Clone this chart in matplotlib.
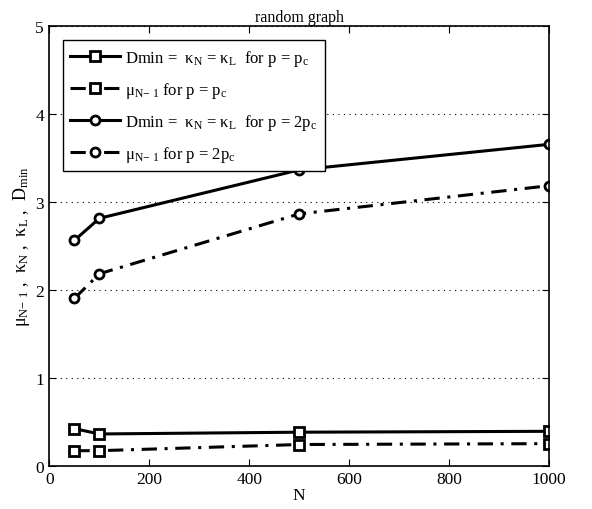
import matplotlib
matplotlib.use("Agg")
import matplotlib.pyplot as plt

N = [50, 100, 500, 1000]
dmin_pc = [0.42, 0.36, 0.38, 0.39]
mu_pc = [0.17, 0.17, 0.24, 0.25]
dmin_2pc = [2.56, 2.81, 3.36, 3.65]
mu_2pc = [1.90, 2.18, 2.86, 3.18]

labels = [r"Dmin =  $\kappa_N$ = $\kappa_L$  for p = p$_c$",
          r"$\mu_{N\mathrm{-}\ 1}$ for p = p$_c$",
          r"Dmin =  $\kappa_N$ = $\kappa_L$  for p = 2p$_c$",
          r"$\mu_{N\mathrm{-}\ 1}$ for p = 2p$_c$"]

plt.rcParams['font.family'] = ['Liberation Serif', 'DejaVu Serif']
plt.rcParams['mathtext.fontset'] = 'custom'
plt.rcParams['mathtext.rm'] = 'Liberation Serif'
plt.rcParams['mathtext.it'] = 'Liberation Serif'
plt.rcParams['mathtext.default'] = 'regular'

fig = plt.figure(figsize=(5.92, 5.10), dpi=100)
ax = fig.add_axes([0.0836, 0.085, 0.8436, 0.863])

lw = 2.2
mk = dict(markersize=6.5, markeredgewidth=2.0, markerfacecolor='white', markeredgecolor='black', color='black', linewidth=lw)
dd = (0, (5, 2.5, 1, 2.5))
ax.plot(N, dmin_pc, marker='s', linestyle='-', label=labels[0], **mk)
ax.plot(N, mu_pc, marker='s', linestyle=dd, label=labels[1], **mk)
ax.plot(N, dmin_2pc, marker='o', linestyle='-', label=labels[2], **mk)
ax.plot(N, mu_2pc, marker='o', linestyle=dd, label=labels[3], **mk)

ax.set_xlim(0, 1000)
ax.set_ylim(0, 5)
ax.set_xticks([0, 200, 400, 600, 800, 1000])
ax.set_yticks([0, 1, 2, 3, 4, 5])
ax.yaxis.grid(True, linestyle=(0, (1, 4)), color='black', linewidth=0.8)
ax.tick_params(direction='in', top=True, right=True, labelsize=12.5, length=5, width=0.8, pad=4)
for s in ax.spines.values():
    s.set_linewidth(1.2)

ax.set_xlabel("N", fontsize=12.5, labelpad=0)
ax.set_ylabel(r"$\mu_{N\mathrm{-}\ 1}$ ,  $\kappa_N$ ,  $\kappa_L$ ,  $D_{min}$", fontsize=13, labelpad=2)
ax.set_title("random graph", fontsize=11.5, pad=3)

leg = ax.legend(loc='upper left', bbox_to_anchor=(0.027, 0.967), borderaxespad=0, fontsize=12, frameon=True,
                fancybox=False, edgecolor='black', framealpha=1, handlelength=3.0,
                borderpad=0.45, labelspacing=0.72, handletextpad=0.3)
leg.get_frame().set_linewidth(1.0)

fig.savefig("out.png", dpi=100)
